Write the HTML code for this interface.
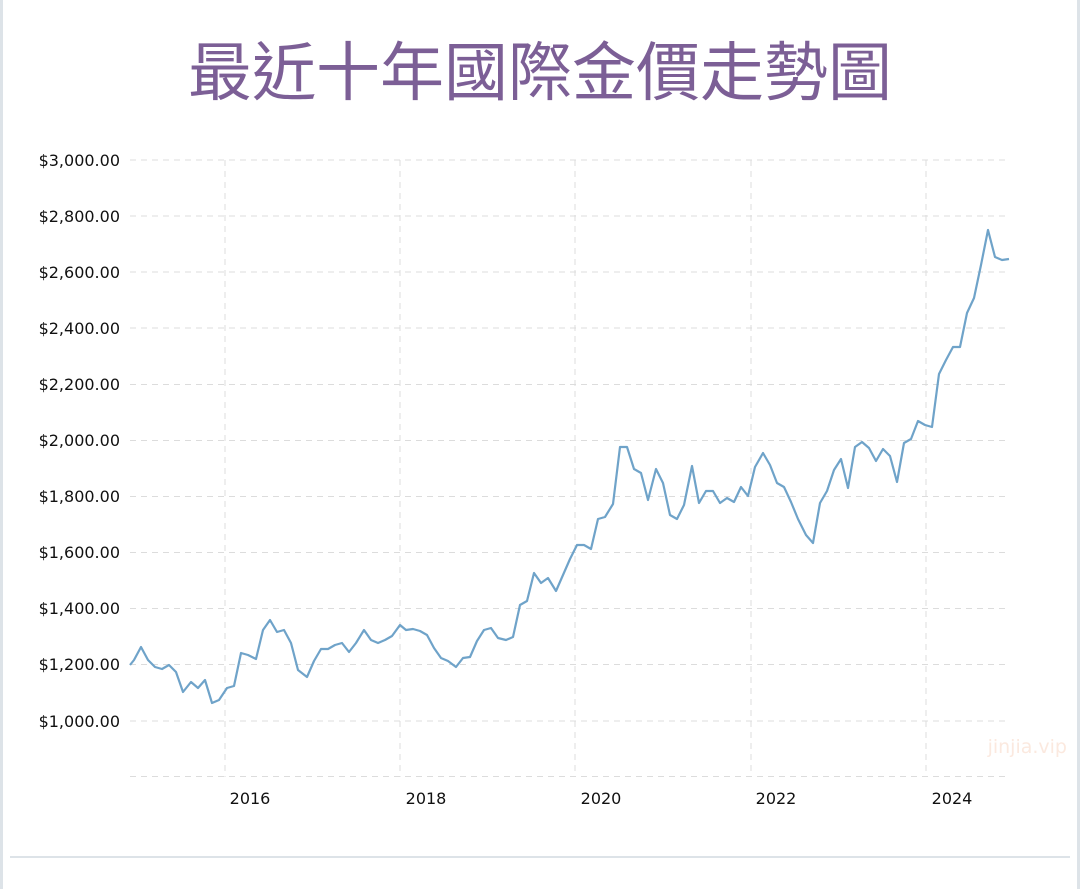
<!DOCTYPE html>
<html><head><meta charset="utf-8"><style>
html,body{margin:0;padding:0;background:#fff;}
body{width:1080px;height:889px;position:relative;overflow:hidden;font-family:"DejaVu Sans","Liberation Sans",sans-serif;}
</style></head><body>
<svg width="1080" height="889" xmlns="http://www.w3.org/2000/svg" style="position:absolute;left:0;top:0">
<rect x="0" y="0" width="3" height="889" fill="#dde3e8"/>
<rect x="1077" y="0" width="3" height="889" fill="#dde3e8"/>
<rect x="10" y="856" width="1060" height="2" fill="#dde3e8"/>
<text x="540" y="95" text-anchor="middle" font-family="'Noto Sans CJK TC','WenQuanYi Zen Hei',sans-serif" font-size="64" fill="#7c5f96">最近十年國際金價走勢圖</text>
<g stroke="#dcdcdc" stroke-width="1" stroke-dasharray="6,5" fill="none">
<line x1="130" x2="1010" y1="160" y2="160"/><line x1="130" x2="1010" y1="216" y2="216"/>
<line x1="130" x2="1010" y1="272" y2="272"/><line x1="130" x2="1010" y1="328" y2="328"/>
<line x1="130" x2="1010" y1="384.5" y2="384.5"/><line x1="130" x2="1010" y1="440.5" y2="440.5"/>
<line x1="130" x2="1010" y1="496.5" y2="496.5"/><line x1="130" x2="1010" y1="552.5" y2="552.5"/>
<line x1="130" x2="1010" y1="608.5" y2="608.5"/><line x1="130" x2="1010" y1="664.5" y2="664.5"/>
<line x1="130" x2="1010" y1="721" y2="721"/><line x1="130" x2="1010" y1="776.5" y2="776.5"/>
<line x1="225" x2="225" y1="160" y2="777"/><line x1="400" x2="400" y1="160" y2="777"/>
<line x1="575" x2="575" y1="160" y2="777"/><line x1="751" x2="751" y1="160" y2="777"/>
<line x1="926" x2="926" y1="160" y2="777"/>
</g>
<g font-size="16" fill="#111" text-anchor="end">
<text x="120" y="166">$3,000.00</text><text x="120" y="222">$2,800.00</text>
<text x="120" y="278">$2,600.00</text><text x="120" y="334">$2,400.00</text>
<text x="120" y="390">$2,200.00</text><text x="120" y="446">$2,000.00</text>
<text x="120" y="502">$1,800.00</text><text x="120" y="558">$1,600.00</text>
<text x="120" y="614">$1,400.00</text><text x="120" y="670">$1,200.00</text>
<text x="120" y="727">$1,000.00</text>
</g>
<g font-size="16" fill="#111" text-anchor="middle">
<text x="250" y="804">2016</text><text x="426" y="804">2018</text>
<text x="601" y="804">2020</text><text x="776" y="804">2022</text>
<text x="952" y="804">2024</text>
</g>
<text x="1067" y="753" text-anchor="end" font-size="19" fill="#fbe9df">jinjia.vip</text>
<polyline fill="none" stroke="#6fa3c9" stroke-width="2.2" stroke-linejoin="round" points="130,665 134,660 141,647 148,660 155,667 162,669 169,665 176,672 183,692 191,682 198,688 205,680 212,703 219,700 227,688 234,686 241,653 248,655 256,659 263,630 270,620 277,632 284,630 291,643 298,670 307,677 314,661 321,649 328,649 335,645 342,643 349,652 356,643 364,630 371,640 378,643 385,640 392,636 400,625 406,630 413,629 420,631 427,635 434,648 441,658 448,661 456,667 463,658 470,657 477,641 484,630 491,628 498,638 506,640 513,637 520,605 527,601 534,573 541,583 548,578 556,591 563,575 570,559 577,545 584,545 591,549 598,519 605,517 613,504 620,447 627,447 634,469 641,473 648,500 656,469 663,483 670,515 677,519 684,505 692,466 699,503 706,491 713,491 720,503 727,498 734,502 741,487 748,496 755,467 763,453 770,465 777,483 784,487 791,502 798,519 806,535 813,543 820,503 827,491 834,470 841,459 848,488 855,447 862,442 869,448 876,461 883,449 890,456 897,482 904,443 911,439 918,421 925,425 932,427 939,374 946,360 953,347 960,347 967,313 974,298 981,265 988,230 995,257 1002,260 1009,259"/>
</svg>
</body></html>
